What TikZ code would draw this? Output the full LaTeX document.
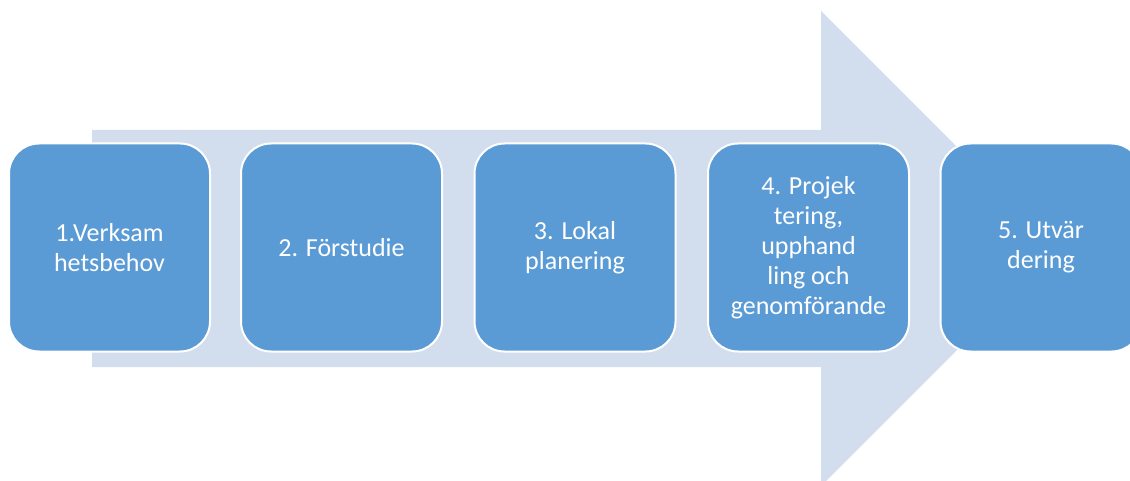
\documentclass[tikz,border=0pt]{standalone}
\usepackage{fontspec}
\setmainfont{Carlito}
\definecolor{arrowbg}{RGB}{210,222,238}
\definecolor{stepblue}{RGB}{91,155,213}
\begin{document}
\begin{tikzpicture}[x=1pt, y=1pt, line join=round, line cap=round,
	stepbox/.style={rectangle, rounded corners=30pt, fill=stepblue, draw=white, line width=2pt,
		minimum width=201pt, minimum height=208pt, text=white, align=center,
		font=\fontsize{26}{30}\selectfont}]
	\useasboundingbox (0,0) rectangle (1130,480);
	\clip (0,0) rectangle (1130,480);
	% big arrow behind the steps
	\fill[arrowbg] (92,350) -- (821,350) -- (821,469) -- (1058.5,231.5) -- (821,-6) -- (821,113) -- (92,113) -- cycle;
	% steps
	\node[stepbox] (b1) at (109.5,232.5) {1.Verksam\\hetsbehov};
	\node[stepbox] (b2) at (341.5,232.5) {2. Förstudie};
	\node[stepbox] (b3) at (575,232.5) {3. Lokal\\planering};
	\node[stepbox] (b4) at (808.5,232.5) {4. Projek\\tering,\\upphand\\ling och\\genomförande};
	\node[stepbox] (b5) at (1041,232.5) {5. Utvär\\dering};
\end{tikzpicture}
\end{document}
